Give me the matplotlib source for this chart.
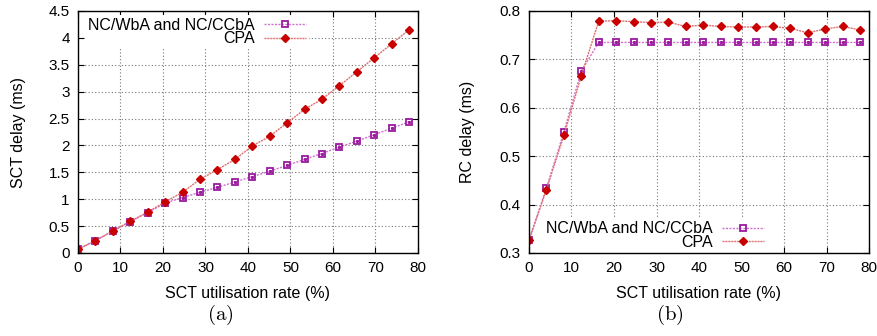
import matplotlib
matplotlib.use("Agg")
import matplotlib.pyplot as plt

plt.rcParams["font.family"] = ["Liberation Sans", "DejaVu Sans"]
plt.rcParams["mathtext.fontset"] = "cm"

util = [0, 4.1, 8.2, 12.3, 16.4, 20.5, 24.6, 28.7, 32.8, 36.9,
        41.0, 45.1, 49.2, 53.3, 57.4, 61.5, 65.6, 69.7, 73.8, 77.9]

# (a) SCT delay
sct_nc = [0.07, 0.23, 0.41, 0.58, 0.75, 0.93, 1.03, 1.13, 1.22, 1.32,
          1.42, 1.52, 1.63, 1.74, 1.85, 1.97, 2.08, 2.20, 2.32, 2.44]
sct_cpa = [0.07, 0.23, 0.41, 0.59, 0.76, 0.95, 1.13, 1.37, 1.55, 1.74,
           1.99, 2.17, 2.42, 2.67, 2.86, 3.11, 3.37, 3.63, 3.89, 4.15]

# (b) RC delay
rc_nc = [0.327, 0.434, 0.550, 0.676, 0.735, 0.735, 0.735, 0.735, 0.735, 0.735,
         0.735, 0.735, 0.735, 0.735, 0.735, 0.735, 0.735, 0.735, 0.735, 0.735]
rc_cpa = [0.326, 0.431, 0.543, 0.666, 0.779, 0.780, 0.778, 0.776, 0.777, 0.768,
          0.771, 0.768, 0.767, 0.767, 0.768, 0.764, 0.755, 0.763, 0.768, 0.761]

labels = ["NC/WbA and NC/CCbA", "CPA"]
purple = "#9a1aa0"
red = "#c80000"


def style(ax):
    ax.grid(True, color="#777777", linestyle=(0, (1, 2)), linewidth=0.8)
    ax.tick_params(direction="in", top=True, right=True, labelsize=11, length=4, pad=6)
    for s in ax.spines.values():
        s.set_linewidth(1.0)
        s.set_zorder(6)
    ax.set_xlim(0, 80)
    ax.set_xticks(range(0, 81, 10))


def draw(ax, y1, y2):
    ax.plot(util, y1, color="#d070d0", linestyle=(0, (1.5, 1)), linewidth=1.0,
            marker="s", markersize=5, markerfacecolor="none",
            markeredgecolor=purple, markeredgewidth=1.3, label=labels[0])
    ax.plot(util, y1, linestyle="none", marker="s", markersize=1.2,
            color=purple)
    ax.plot(util, y2, color="#e07070", linestyle=(0, (1.5, 0.6)), linewidth=1.0,
            marker="D", markersize=4.5, markerfacecolor=red,
            markeredgecolor=red, label=labels[1])


def legend(ax, loc, anchor):
    leg = ax.legend(loc=loc, markerfirst=False, frameon=True, fontsize=11.5,
                    handlelength=2.6, borderaxespad=0.0, borderpad=0.2,
                    labelspacing=-0.1, handletextpad=0.6, fancybox=False,
                    edgecolor="none", framealpha=1.0, bbox_to_anchor=anchor)
    leg.set_zorder(5)
    for t in leg.get_texts():
        t.set_ha("right")
    return leg


fig = plt.figure(figsize=(8.78, 3.36), dpi=100)
ax1 = fig.add_axes([78 / 878, 1 - 253 / 336, 340 / 878, 242 / 336])
ax2 = fig.add_axes([529 / 878, 1 - 253 / 336, 340 / 878, 242 / 336])

draw(ax1, sct_nc, sct_cpa)
style(ax1)
ax1.set_ylim(0, 4.5)
ax1.set_yticks([0, 0.5, 1, 1.5, 2, 2.5, 3, 3.5, 4, 4.5])
ax1.set_yticklabels(["0", "0.5", "1", "1.5", "2", "2.5", "3", "3.5", "4", "4.5"])
ax1.set_xlabel("SCT utilisation rate (%)", fontsize=11.5, labelpad=8)
ax1.set_ylabel("SCT delay (ms)", fontsize=11.5, labelpad=16)
legend(ax1, "upper left", (0.02, 0.985))
fig.text(220 / 878, 1 - 315 / 336, r"$\mathrm{(a)}$", fontsize=15, ha="center", va="center")

draw(ax2, rc_nc, rc_cpa)
style(ax2)
ax2.set_ylim(0.3, 0.8)
ax2.set_yticks([0.3, 0.4, 0.5, 0.6, 0.7, 0.8])
ax2.set_xlabel("SCT utilisation rate (%)", fontsize=11.5, labelpad=8)
ax2.set_ylabel("RC delay (ms)", fontsize=11.5, labelpad=18)
legend(ax2, "lower left", (0.04, 0.0))
fig.text(670 / 878, 1 - 315 / 336, r"$\mathrm{(b)}$", fontsize=15, ha="center", va="center")

fig.savefig("out.png", dpi=100)
plt.close(fig)
